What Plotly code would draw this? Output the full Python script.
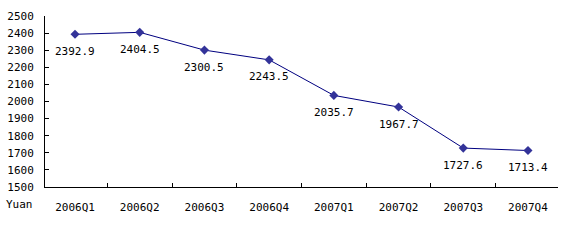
import plotly.graph_objects as go

quarters = ["2006Q1", "2006Q2", "2006Q3", "2006Q4", "2007Q1", "2007Q2", "2007Q3", "2007Q4"]
values = [2392.9, 2404.5, 2300.5, 2243.5, 2035.7, 1967.7, 1727.6, 1713.4]
labels = [f"{v:.1f}" for v in values]

FONT = "DejaVu Sans Mono"

fig = go.Figure()
fig.add_trace(go.Scatter(
    x=quarters, y=values, mode="lines+markers",
    line=dict(color="#000080", width=1),
    marker=dict(symbol="diamond", size=7, color="#333399"),
    cliponaxis=False,
))

annotations = [
    dict(x=q, y=v, text=t, xref="x", yref="y", showarrow=False,
         yshift=-17, xanchor="center", yanchor="middle",
         font=dict(family=FONT, size=11, color="black"))
    for q, v, t in zip(quarters, values, labels)
]
annotations.append(dict(
    text="Yuan", xref="paper", yref="paper",
    x=-10/513, y=-18/171, xanchor="right", yanchor="middle",
    showarrow=False, font=dict(family=FONT, size=11, color="black"),
))

fig.update_layout(
    width=564, height=251,
    margin=dict(l=45, r=6, t=16, b=64),
    paper_bgcolor="white", plot_bgcolor="white",
    showlegend=False,
    font=dict(family=FONT, size=11, color="black"),
    xaxis=dict(
        type="category", showline=True, linecolor="black", linewidth=1,
        ticks="inside", tickson="boundaries", ticklen=4, tickcolor="black",
        showgrid=False, zeroline=False, ticklabelstandoff=10,
        tickfont=dict(family=FONT, size=11),
    ),
    yaxis=dict(
        range=[1500, 2500], dtick=100, showline=True, linecolor="black",
        linewidth=1, ticks="inside", ticklen=4, tickcolor="black",
        showgrid=False, zeroline=False, ticklabelstandoff=8,
        tickfont=dict(family=FONT, size=11),
    ),
    annotations=annotations,
)

fig.write_html("out.html")
